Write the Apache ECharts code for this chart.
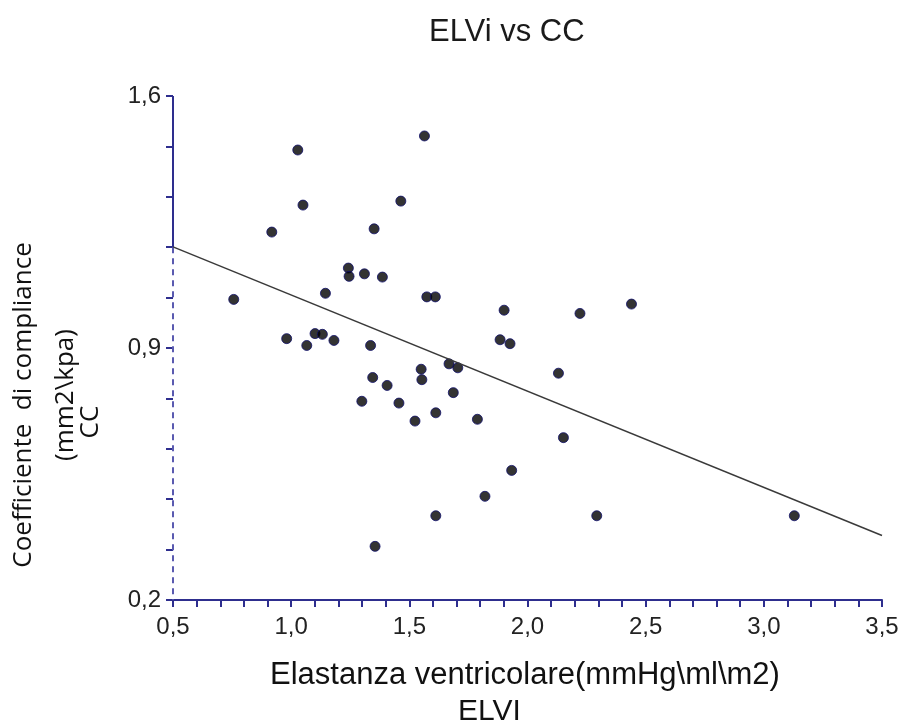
<!DOCTYPE html>
<html>
<head>
<meta charset="utf-8">
<script src="https://cdn.jsdelivr.net/npm/echarts@6/dist/echarts.min.js"></script>
<style>
html, body { margin: 0; padding: 0; background: #fff; }
#container { width: 903px; height: 725px; }
</style>
</head>
<body>
<div id="container"></div>
<script>
// ELVI (x) vs CC (y)
let elvi = [0.757, 0.918, 1.028, 1.050, 0.981, 1.066, 1.101, 1.132, 1.145, 1.181,
            1.242, 1.245, 1.310, 1.351, 1.386, 1.464, 1.564, 1.336, 1.345, 1.299,
            1.406, 1.456, 1.524, 1.550, 1.553, 1.574, 1.610, 1.612, 1.668, 1.686,
            1.705, 1.788, 1.820, 1.612, 1.355, 1.884, 1.901, 1.926, 1.933, 2.131,
            2.152, 2.222, 2.293, 2.440, 3.129];
let cc = [1.035, 1.222, 1.450, 1.297, 0.926, 0.907, 0.940, 0.938, 1.052, 0.921,
          1.122, 1.099, 1.106, 1.231, 1.097, 1.308, 1.489, 0.907, 0.818, 0.752,
          0.796, 0.747, 0.697, 0.841, 0.812, 1.042, 1.042, 0.720, 0.856, 0.776,
          0.845, 0.702, 0.488, 0.434, 0.349, 0.923, 1.005, 0.912, 0.560, 0.830,
          0.651, 0.996, 0.434, 1.022, 0.434];
// regression line ends
let fitX = [0.5, 3.5];
let fitY = [1.181, 0.379];
// y axis: solid top part, dashed lower part
let yAxisSolid = [[0.5, 1.6], [0.5, 1.18]];
let yAxisDashed = [[0.5, 1.18], [0.5, 0.2]];
let yTickLabels = {'0.2': '0,2', '0.9': '0,9', '1.6': '1,6'};

let points = elvi.map(function (x, i) { return [x, cc[i]]; });
let fit = fitX.map(function (x, i) { return [x, fitY[i]]; });

let axisColor = '#2e2e8e';
let dom = document.getElementById("container");
let myChart = echarts.init(dom);

function yName(text, x, y) {
    return {
        type: 'text',
        x: x,
        y: y,
        rotation: Math.PI / 2,
        style: {
            text: text,
            x: 0, y: 0,
            fontFamily: 'Open Sans',
            fontSize: 26,
            align: 'center',
            verticalAlign: 'middle',
            fill: '#111'
        }
    };
}

let option = {
    backgroundColor: '#fff',
    animation: false,
    title: {
        text: 'ELVi vs CC',
        left: 424,
        top: 12,
        textStyle: {
            fontFamily: 'Liberation Sans',
            fontSize: 31,
            fontWeight: 'normal',
            color: '#1a1a1a'
        }
    },
    grid: {
        left: 173,
        right: 21,
        top: 96,
        bottom: 125
    },
    xAxis: {
        type: 'value',
        min: 0.5,
        max: 3.5,
        interval: 0.5,
        axisLine: { lineStyle: { color: axisColor, width: 2 } },
        axisTick: { length: 7, lineStyle: { color: axisColor, width: 2 } },
        minorTick: { show: true, splitNumber: 5, length: 7, lineStyle: { color: axisColor, width: 2 } },
        splitLine: { show: false },
        axisLabel: {
            margin: 15,
            fontFamily: 'Liberation Sans',
            fontSize: 24,
            color: '#222',
            formatter: function (v) { return v.toFixed(1).replace('.', ','); }
        }
    },
    yAxis: {
        type: 'value',
        min: 0.2,
        max: 1.6,
        interval: 0.14,
        axisLine: { show: false },
        axisTick: { length: 7, lineStyle: { color: axisColor, width: 2 } },
        splitLine: { show: false },
        axisLabel: {
            margin: 12,
            fontFamily: 'Liberation Sans',
            fontSize: 24,
            color: '#222',
            formatter: function (v) {
                let k = (Math.round(v * 10) / 10).toFixed(1);
                return Math.abs(v - parseFloat(k)) < 1e-6 && yTickLabels[k] ? yTickLabels[k] : '';
            }
        }
    },
    graphic: [
        yName('Coefficiente  di compliance', 24, 405),
        yName('(mm2\\kpa)', 66, 395),
        yName('CC', 91, 422),
        {
            type: 'text',
            left: 270,
            top: 660,
            style: {
                text: 'Elastanza ventricolare(mmHg\\ml\\m2)',
                fontFamily: 'Liberation Sans',
                fontSize: 31,
                fill: '#111'
            }
        },
        {
            type: 'text',
            left: 458,
            top: 697,
            style: {
                text: 'ELVI',
                fontFamily: 'Liberation Sans',
                fontSize: 30,
                fill: '#111'
            }
        }
    ],
    series: [
        {
            type: 'line',
            data: yAxisSolid,
            symbol: 'none',
            silent: true,
            lineStyle: { color: axisColor, width: 2 }
        },
        {
            type: 'line',
            data: yAxisDashed,
            symbol: 'none',
            silent: true,
            lineStyle: { color: '#5a5ab0', width: 2, type: [6, 5] }
        },
        {
            type: 'line',
            data: fit,
            symbol: 'none',
            silent: true,
            lineStyle: { color: '#3a3a3a', width: 1.5 }
        },
        {
            type: 'scatter',
            data: points,
            symbol: 'circle',
            symbolSize: 10,
            itemStyle: { color: '#000', borderColor: '#10106a', borderWidth: 1 }
        }
    ]
};
if (option && typeof option === "object") {
    myChart.setOption(option, true);
}
</script>
</body>
</html>
